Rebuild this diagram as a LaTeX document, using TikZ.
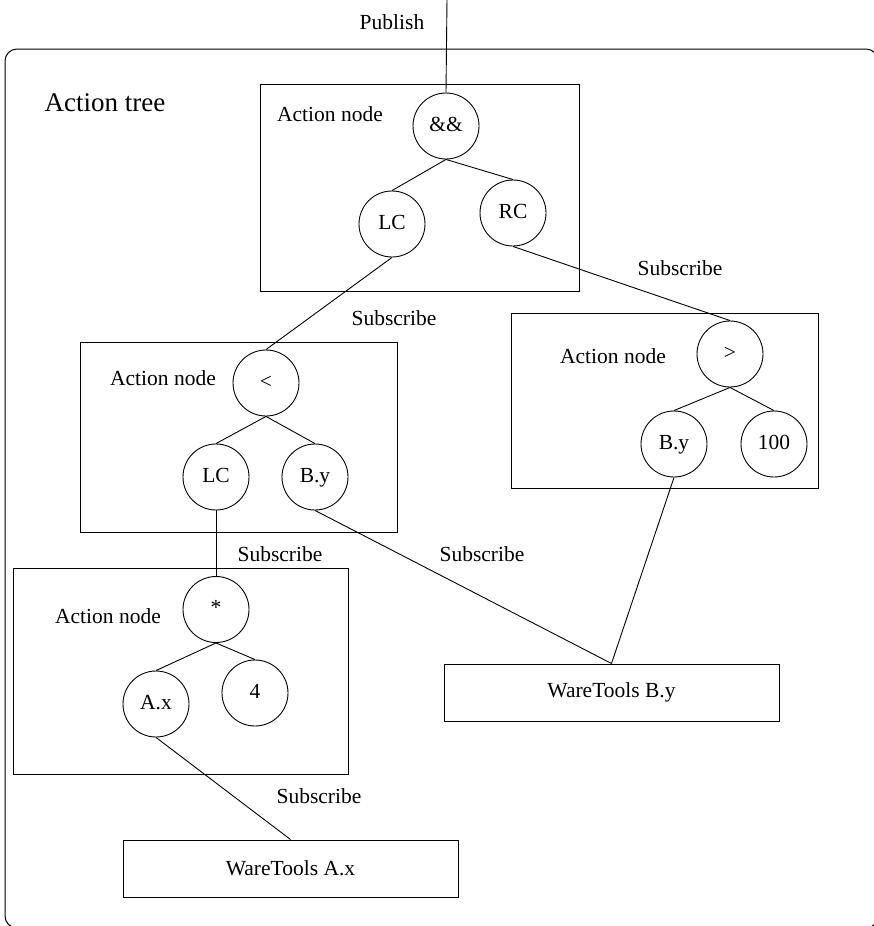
\documentclass[tikz,border=0pt]{standalone}
\usepackage{fontspec}
\setmainfont{Liberation Serif}
\begin{document}
\begin{tikzpicture}[x=1pt,y=-1pt,
  every node/.style={font=\fontsize{21.5}{25}\selectfont},
  cnode/.style={draw, circle, minimum size=66pt, inner sep=0pt, line width=0.9pt, text height=14pt, text depth=4pt},
  abox/.style={draw, rectangle, inner sep=0pt, line width=1pt},
  wbox/.style={draw, rectangle, inner sep=0pt, line width=1pt, minimum width=335pt, minimum height=57pt},
  lbl/.style={inner sep=0pt},
  link/.style={line width=0.9pt}]
\useasboundingbox (0,0) rectangle (874,926);
\clip (0,0) rectangle (874,926);
% outer frame
\draw[line width=1pt, rounded corners=12pt] (5,49) rectangle (878,928);
\node[lbl, font=\fontsize{27}{32}\selectfont] (title) at (105,103) {Action tree};
% publish
\coordinate (pubtop) at (447,-2);
\node[lbl] (pub) at (392,22) {Publish};
% boxes
\node[abox, minimum width=319pt, minimum height=207pt] (box1) at (419.5,187.5) {};
\node[abox, minimum width=317pt, minimum height=190pt] (box2) at (238.5,437) {};
\node[abox, minimum width=307pt, minimum height=175pt] (box3) at (664.5,400.5) {};
\node[abox, minimum width=335pt, minimum height=206pt] (box4) at (180.5,671) {};
\node[wbox] (wtB) at (611.5,692.5) {WareTools B.y};
\node[wbox] (wtA) at (290.5,868.5) {WareTools A.x};
% box labels
\node[lbl] (an1) at (330,114) {Action node};
\node[lbl] (an2) at (163,378) {Action node};
\node[lbl] (an3) at (613,356) {Action node};
\node[lbl] (an4) at (108,616) {Action node};
% circles
\node[cnode] (and) at (446,126) {\&\&};
\node[cnode] (lc1) at (392,224) {LC};
\node[cnode] (rc) at (513,213) {RC};
\node[cnode] (lt) at (266,383) {<};
\node[cnode] (lc2) at (216,477) {LC};
\node[cnode] (by1) at (315,477) {B.y};
\node[cnode] (gt) at (730,354) {>};
\node[cnode] (by2) at (674,444) {B.y};
\node[cnode] (n100) at (774,444) {100};
\node[cnode] (star) at (216,609.5) {*};
\node[cnode] (ax) at (156,704) {A.x};
\node[cnode] (four) at (255,693) {4};
% subscribe labels
\node[lbl] (s1) at (394,318) {Subscribe};
\node[lbl] (s2) at (680,268) {Subscribe};
\node[lbl] (s3) at (280,554) {Subscribe};
\node[lbl] (s4) at (482,554) {Subscribe};
\node[lbl] (s5) at (319,796) {Subscribe};
% connectors
\draw[link] (pubtop) -- (and.north);
\draw[link] (and.south) -- (lc1.north);
\draw[link] (and.south) -- (rc.north);
\draw[link] (lc1.south) -- (lt.north);
\draw[link] (rc.south) -- (gt.north);
\draw[link] (lt.south) -- (lc2.north);
\draw[link] (lt.south) -- (by1.north);
\draw[link] (gt.south) -- (by2.north);
\draw[link] (gt.south) -- (n100.north);
\draw[link] (lc2.south) -- (star.north);
\draw[link] (star.south) -- (ax.north);
\draw[link] (star.south) -- (four.north);
\draw[link] (by1.south) -- (wtB.north);
\draw[link] (by2.south) -- (wtB.north);
\draw[link] (ax.south) -- (wtA.north);
\end{tikzpicture}
\end{document}
